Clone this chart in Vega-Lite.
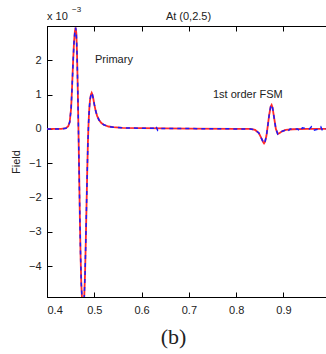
{
 "$schema": "https://vega.github.io/schema/vega-lite/v6.json",
 "width": 279, "height": 271,
 "autosize": "none",
 "padding": {"left": 47, "top": 26, "right": 0, "bottom": 57},
 "background": "white",
 "config": {
  "view": {"stroke": "black", "strokeWidth": 1},
  "font": "Liberation Sans",
  "axis": {"grid": false, "domainColor": "black", "tickColor": "black", "labelColor": "#222", "labelFont": "Liberation Sans", "labelFontSize": 11, "titleFont": "Liberation Sans", "titleFontWeight": "normal", "titleColor": "#222"}
 },
 "datasets": {
  "red": [
   {"x":0.40,"y":0},{"x":0.43,"y":0},{"x":0.44,"y":0.02},{"x":0.445,"y":0.08},{"x":0.448,"y":0.2},{"x":0.451,"y":0.6},{"x":0.453,"y":1.2},{"x":0.455,"y":1.9},{"x":0.457,"y":2.5},{"x":0.459,"y":2.85},{"x":0.4605,"y":2.95},{"x":0.462,"y":2.8},{"x":0.4635,"y":2.2},{"x":0.465,"y":1.2},{"x":0.4665,"y":0.0},{"x":0.468,"y":-1.3},{"x":0.4695,"y":-2.6},{"x":0.471,"y":-3.7},{"x":0.4725,"y":-4.5},{"x":0.4745,"y":-5.1},{"x":0.4765,"y":-5.3},{"x":0.4785,"y":-5.0},{"x":0.4805,"y":-4.2},{"x":0.482,"y":-3.3},{"x":0.4835,"y":-2.3},{"x":0.485,"y":-1.3},{"x":0.4865,"y":-0.4},{"x":0.488,"y":0.2},{"x":0.4895,"y":0.6},{"x":0.491,"y":0.85},{"x":0.493,"y":1.0},{"x":0.4945,"y":1.05},{"x":0.496,"y":1.0},{"x":0.498,"y":0.88},{"x":0.5,"y":0.72},{"x":0.503,"y":0.52},{"x":0.506,"y":0.38},{"x":0.51,"y":0.26},{"x":0.515,"y":0.17},{"x":0.52,"y":0.12},{"x":0.53,"y":0.07},{"x":0.54,"y":0.05},{"x":0.56,"y":0.03},{"x":0.6,"y":0.02},{"x":0.7,"y":0.01},{"x":0.8,"y":0.0},{"x":0.83,"y":0.0},{"x":0.84,"y":-0.03},{"x":0.848,"y":-0.12},{"x":0.853,"y":-0.26},{"x":0.857,"y":-0.38},{"x":0.859,"y":-0.42},{"x":0.861,"y":-0.38},{"x":0.864,"y":-0.2},{"x":0.867,"y":0.1},{"x":0.87,"y":0.42},{"x":0.873,"y":0.65},{"x":0.875,"y":0.7},{"x":0.877,"y":0.62},{"x":0.88,"y":0.35},{"x":0.884,"y":0.0},{"x":0.888,"y":-0.15},{"x":0.892,"y":-0.12},{"x":0.897,"y":-0.07},{"x":0.905,"y":-0.03},{"x":0.92,"y":-0.01},{"x":0.95,"y":0.0},{"x":0.99,"y":0.0}
  ],
  "blue": [
   {"x":0.40,"y":0},{"x":0.43,"y":0},{"x":0.44,"y":0.02},{"x":0.445,"y":0.08},{"x":0.448,"y":0.2},{"x":0.451,"y":0.6},{"x":0.453,"y":1.2},{"x":0.455,"y":1.9},{"x":0.457,"y":2.5},{"x":0.459,"y":2.85},{"x":0.4605,"y":2.95},{"x":0.462,"y":2.8},{"x":0.4635,"y":2.2},{"x":0.465,"y":1.2},{"x":0.4665,"y":0.0},{"x":0.468,"y":-1.3},{"x":0.4695,"y":-2.6},{"x":0.471,"y":-3.7},{"x":0.4725,"y":-4.5},{"x":0.4745,"y":-5.1},{"x":0.4765,"y":-5.3},{"x":0.4785,"y":-5.0},{"x":0.4805,"y":-4.2},{"x":0.482,"y":-3.3},{"x":0.4835,"y":-2.3},{"x":0.485,"y":-1.3},{"x":0.4865,"y":-0.4},{"x":0.488,"y":0.2},{"x":0.4895,"y":0.6},{"x":0.491,"y":0.85},{"x":0.493,"y":1.0},{"x":0.4945,"y":1.05},{"x":0.496,"y":1.0},{"x":0.498,"y":0.88},{"x":0.5,"y":0.72},{"x":0.503,"y":0.52},{"x":0.506,"y":0.38},{"x":0.51,"y":0.26},{"x":0.515,"y":0.17},{"x":0.52,"y":0.12},{"x":0.53,"y":0.07},{"x":0.54,"y":0.05},{"x":0.56,"y":0.03},{"x":0.6,"y":0.02},{"x":0.625,"y":0.02},{"x":0.63,"y":0.09},{"x":0.634,"y":-0.04},{"x":0.638,"y":0.01},{"x":0.7,"y":0.01},{"x":0.8,"y":0.0},{"x":0.83,"y":0.0},{"x":0.84,"y":-0.03},{"x":0.848,"y":-0.12},{"x":0.853,"y":-0.26},{"x":0.857,"y":-0.38},{"x":0.859,"y":-0.42},{"x":0.861,"y":-0.38},{"x":0.864,"y":-0.2},{"x":0.867,"y":0.1},{"x":0.87,"y":0.42},{"x":0.873,"y":0.65},{"x":0.875,"y":0.7},{"x":0.877,"y":0.62},{"x":0.88,"y":0.35},{"x":0.884,"y":0.0},{"x":0.888,"y":-0.15},{"x":0.892,"y":-0.12},{"x":0.897,"y":-0.07},{"x":0.905,"y":-0.03},{"x":0.909,"y":-0.07},{"x":0.914,"y":0.0},{"x":0.93,"y":0.0},{"x":0.935,"y":-0.07},{"x":0.94,"y":0.03},{"x":0.955,"y":0.0},{"x":0.959,"y":0.06},{"x":0.963,"y":-0.04},{"x":0.975,"y":0.0},{"x":0.979,"y":0.06},{"x":0.983,"y":-0.06},{"x":0.99,"y":0.0}
  ]
 },
 "layer": [
  {
   "data": {"name": "red"},
   "mark": {"type": "line", "color": "#ff2a2a", "strokeWidth": 1.8, "clip": true},
   "encoding": {
    "x": {"field": "x", "type": "quantitative", "scale": {"domain": [0.4, 0.99], "nice": false, "zero": false},
      "axis": {"orient": "bottom", "values": [0.4,0.5,0.6,0.7,0.8,0.9], "format": ".1f", "tickSize": -5, "labelPadding": 12, "title": "(b)", "titleFont": "Liberation Serif", "titleFontSize": 22, "titleColor": "#222", "titleX": 126, "titleY": 46, "titleBaseline": "alphabetic"}},
    "y": {"field": "y", "type": "quantitative", "scale": {"domain": [-4.9, 3.0], "nice": false, "zero": false},
      "axis": {"values": [-4,-3,-2,-1,0,1,2], "tickSize": -5, "labelPadding": 11, "title": "Field", "titleFontSize": 11, "titlePadding": 7}}
   }
  },
  {
   "data": {"name": "blue"},
   "mark": {"type": "line", "color": "#1a1aff", "strokeWidth": 1.5, "strokeDash": [4, 4], "clip": true},
   "encoding": {
    "x": {"field": "x", "type": "quantitative", "axis": {"orient": "top", "values": [0.4,0.5,0.6,0.7,0.8,0.9], "labels": false, "tickSize": -5, "title": "At (0,2.5)", "titleFontSize": 11, "titleX": 141, "titleY": -7, "titleBaseline": "alphabetic"}},
    "y": {"field": "y", "type": "quantitative"}
   }
  },
  {
   "data": {"values": [{"x": 0.5015, "y": 2.0, "t": "Primary"}, {"x": 0.751, "y": 0.99, "t": "1st order FSM"}]},
   "mark": {"type": "text", "align": "left", "baseline": "middle", "fontSize": 11, "font": "Liberation Sans", "color": "#222"},
   "encoding": {
    "x": {"field": "x", "type": "quantitative", "axis": null},
    "y": {"field": "y", "type": "quantitative"},
    "text": {"field": "t"}
   }
  },
  {
   "data": {"values": [{"x": 0.4, "y": 3.0, "t": "x 10"}]},
   "mark": {"type": "text", "align": "left", "baseline": "alphabetic", "dy": -6, "fontSize": 11, "font": "Liberation Sans", "color": "#222"},
   "encoding": {
    "x": {"field": "x", "type": "quantitative", "axis": null},
    "y": {"field": "y", "type": "quantitative"},
    "text": {"field": "t"}
   }
  },
  {
   "data": {"values": [{"x": 0.4, "y": 3.0, "t": "−3"}]},
   "mark": {"type": "text", "align": "left", "baseline": "alphabetic", "dx": 25, "dy": -14, "fontSize": 8, "font": "Liberation Sans", "color": "#222"},
   "encoding": {
    "x": {"field": "x", "type": "quantitative", "axis": null},
    "y": {"field": "y", "type": "quantitative"},
    "text": {"field": "t"}
   }
  }
 ],
 "resolve": {"axis": {"x": "independent"}}
}
